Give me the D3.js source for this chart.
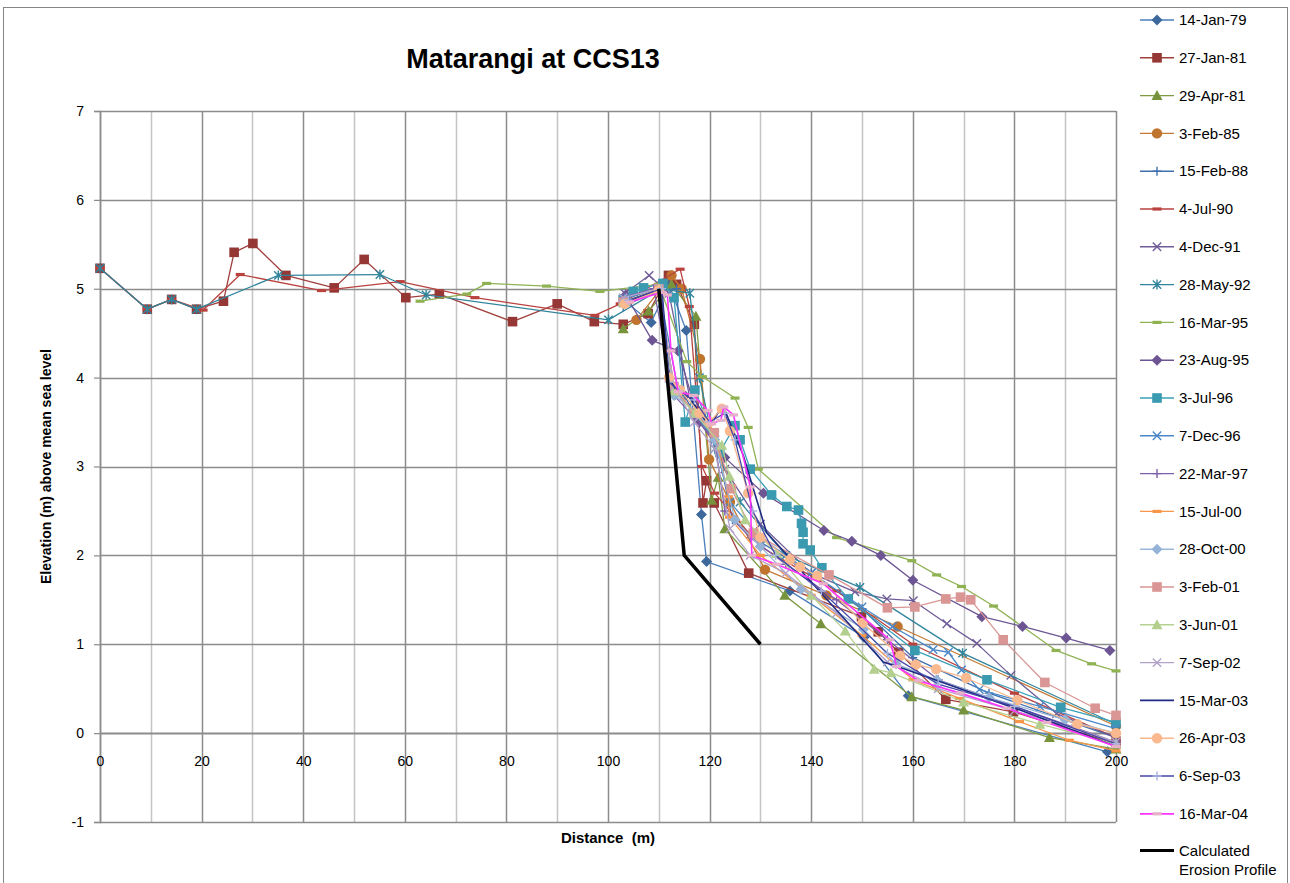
<!DOCTYPE html>
<html>
<head>
<meta charset="utf-8">
<script src="https://cdn.jsdelivr.net/npm/d3@7"></script>
<style>
  html, body { margin: 0; padding: 0; background: #ffffff; }
  svg { display: block; font-family: "Liberation Sans", Arial, sans-serif; }
</style>
</head>
<body>
<svg id="chart" width="1290" height="883"></svg>
<script>
// ---- Beach profile surveys: [distance (m), elevation (m above MSL)] ----
const p14Jan79 = [[103.5,4.85],[108.5,4.62],[112,5.05],[115.4,4.53],[118.4,2.46],[119.4,1.93],[135.8,1.6],[150.4,1.08],[159.1,0.42],[198.3,-0.21]];
const p27Jan81 = [[0,5.23],[9.3,4.77],[14.1,4.88],[19,4.77],[24.3,4.86],[26.4,5.41],[30.1,5.51],[36.6,5.15],[46.1,5.01],[52,5.33],[60.2,4.9],[66.8,4.94],[81.2,4.63],[90,4.83],[97.3,4.63],[103,4.6],[107.9,4.72],[111.9,5.15],[113.5,5.05],[117,4.6],[118.7,2.59],[119.4,2.84],[120.9,2.59],[127.7,1.8],[149.9,1.31],[153.2,1.14],[157.2,0.91],[166.5,0.38],[179.8,0.24],[200,-0.12]];
const p29Apr81 = [[103,4.55],[108,4.75],[112.5,5.05],[117.3,4.69],[120.4,2.62],[121.7,2.88],[123,2.3],[134.8,1.55],[141.9,1.23],[159.8,0.41],[170,0.26],[186.9,-0.05],[200,-0.18]];
const p3Feb85 = [[105.6,4.65],[112.5,5.15],[114.5,5.0],[118.1,4.21],[119.9,3.08],[124,2.6],[130.9,1.84],[143,1.55],[157,1.2],[200,0.08]];
const p15Feb88 = [[103,4.8],[110,4.98],[113.5,5.0],[115,3.8],[118,3.5],[121,3.35],[124.5,2.4],[130,2.15],[140,1.8],[150,1.4],[160,0.85],[175,0.45],[190,0.15],[200,-0.05]];
const p4Jul90 = [[0,5.23],[9.3,4.77],[14.1,4.88],[20.3,4.76],[27.6,5.16],[43.6,4.98],[59.1,5.08],[73.8,4.9],[97.4,4.7],[102.4,4.83],[114.2,5.22],[116,4.8],[118.5,3.0],[121,2.7],[130,2.1],[145,1.6],[160,1.0],[180,0.45],[200,-0.05]];
const p4Dec91 = [[103.3,4.95],[108.1,5.15],[112,4.95],[116,3.8],[121,3.3],[123,2.97],[130,2.35],[140,1.8],[148.6,1.59],[154.9,1.51],[160.1,1.49],[166.7,1.23],[172.6,1.01],[179.3,0.65],[188.3,0.22],[200,-0.05]];
const p28May92 = [[0,5.23],[9.3,4.77],[14.1,4.88],[19,4.77],[35.1,5.15],[55.1,5.16],[64.2,4.93],[100.1,4.65],[110.5,5.0],[116.1,4.95],[118,4.0],[121,3.2],[126,2.6],[135,2.0],[149.6,1.64],[169.8,0.9],[200,0.1]];
const p16Mar95 = [[63,4.86],[72.2,4.94],[76.1,5.06],[87.9,5.03],[98.4,4.97],[110,5.05],[115.5,4.18],[118.6,4.01],[125,3.77],[127.6,3.44],[129.6,2.97],[145,2.2],[159.8,1.94],[164.7,1.78],[169.6,1.65],[175.9,1.43],[188.2,0.93],[195.2,0.78],[200,0.7]];
const p23Aug95 = [[103.5,4.93],[108.7,4.42],[113.8,4.3],[118,3.5],[123,3.1],[130.6,2.7],[142.5,2.28],[148,2.16],[153.7,2.0],[160,1.72],[173.6,1.31],[181.6,1.2],[190.2,1.07],[198.8,0.93]];
const p3Jul96 = [[103,4.88],[105,4.97],[107,5.01],[110.8,5.06],[113,4.9],[115.2,3.5],[117.1,3.86],[122,3.16],[125,3.46],[126,3.3],[128,2.97],[132.2,2.68],[135.2,2.55],[137.5,2.51],[138.1,2.36],[138.4,2.26],[138.4,2.13],[139.8,2.06],[142.1,1.86],[147.3,1.51],[160.4,0.93],[174.6,0.6],[189.1,0.29],[200,0.12]];
const p7Dec96 = [[104,4.9],[110,5.0],[114,3.8],[117,3.6],[121,3.3],[124,2.6],[130,2.2],[140,1.8],[150,1.42],[156,1.2],[164,0.94],[167,0.91],[169.6,0.71],[173.1,0.49],[185,0.3],[200,0.05]];
const p22Mar97 = [[103,4.9],[109,5.0],[113,3.8],[117,3.55],[121,3.3],[123,2.5],[128,2.2],[135,1.9],[145,1.5],[155,1.05],[165,0.6],[180,0.3],[200,-0.1]];
const p15Jul00 = [[104,4.85],[110,4.98],[113,3.9],[117,3.6],[121,3.4],[123.7,2.66],[123.9,2.43],[130,2.0],[140,1.55],[150,1.1],[160,0.6],[169.2,0.39],[181,0.13],[190.8,-0.08],[200,-0.2]];
const p28Oct00 = [[103,4.85],[110,5.0],[113,3.8],[118,3.6],[121,3.3],[125,2.4],[130,2.1],[138,1.62],[150.3,1.17],[156.7,0.78],[164.7,0.6],[175,0.4],[190,0.15],[200,0.0]];
const p3Feb01 = [[103,4.85],[110,5.0],[113,3.9],[117,3.6],[120.9,3.38],[124.3,2.75],[128.6,2.25],[143.5,1.78],[155,1.41],[160.4,1.42],[166.5,1.51],[169.4,1.53],[171.4,1.5],[177.8,1.05],[186,0.57],[195.9,0.28],[200,0.2]];
const p3Jun01 = [[103,4.85],[110,5.0],[113,3.85],[117,3.6],[122.4,3.24],[123.9,2.89],[127,2.4],[133.2,2.02],[140,1.55],[146.7,1.15],[152.4,0.72],[155.7,0.68],[170,0.35],[185,0.1],[200,-0.12]];
const p7Sep02 = [[103,4.9],[110,5.0],[113,3.9],[117,3.5],[121,3.2],[124,2.3],[128,2.0],[135,1.8],[145,1.35],[155,0.8],[165,0.5],[180,0.25],[192,0.05],[200,-0.1]];
const p15Mar03 = [[104.3,4.87],[110.6,5.0],[112,4.0],[113.5,3.85],[116,3.78],[120,3.45],[122.6,3.69],[126.6,3.13],[131.2,2.26],[140,1.7],[154.2,0.8],[158,0.73],[181.1,0.26],[200,-0.15]];
const p26Apr03 = [[103.3,4.83],[110,4.98],[112,4.0],[114.2,3.86],[118,3.6],[120,3.5],[122.4,3.65],[124,3.4],[127.6,2.7],[130,2.2],[135.8,1.95],[137.8,1.87],[141.2,1.77],[150.1,1.24],[157.5,0.87],[160.6,0.77],[164.6,0.72],[170.5,0.62],[180.6,0.37],[192.4,0.1],[200,0.0]];
const p6Sep03 = [[104,4.87],[110.5,5.0],[112,3.95],[114,3.85],[117,3.75],[120,3.5],[123,3.6],[125,3.3],[128.5,2.5],[133,2.0],[142,1.6],[155,0.9],[165,0.55],[180,0.3],[200,-0.12]];
const p16Mar04 = [[104.3,4.85],[110.6,4.96],[111.7,4.93],[112.4,4.3],[113.8,3.84],[116.8,3.8],[119.7,3.63],[120.4,3.48],[122.2,3.52],[122.8,3.67],[124.7,3.58],[128,2.77],[128.3,2.0],[133.2,1.9],[142.4,1.68],[155.5,1.05],[156.8,0.75],[161.1,0.59],[169.3,0.45],[178.5,0.28],[186.4,0.12],[200,-0.15]];
const pErosion = [[110,5.0],[115,2.0],[130,1.0]];

const surveyDates = ["14-Jan-79","27-Jan-81","29-Apr-81","3-Feb-85","15-Feb-88","4-Jul-90","4-Dec-91","28-May-92","16-Mar-95","23-Aug-95","3-Jul-96","7-Dec-96","22-Mar-97","15-Jul-00","28-Oct-00","3-Feb-01","3-Jun-01","7-Sep-02","15-Mar-03","26-Apr-03","6-Sep-03","16-Mar-04"];
const surveyProfiles = [p14Jan79,p27Jan81,p29Apr81,p3Feb85,p15Feb88,p4Jul90,p4Dec91,p28May92,p16Mar95,p23Aug95,p3Jul96,p7Dec96,p22Mar97,p15Jul00,p28Oct00,p3Feb01,p3Jun01,p7Sep02,p15Mar03,p26Apr03,p6Sep03,p16Mar04];
const erosionLabel = ["Calculated", "Erosion Profile"];

const xTicks = [0,20,40,60,80,100,120,140,160,180,200];
const yTicks = [-1,0,1,2,3,4,5,6,7];

// ---- Appearance of each survey line: line colour, marker shape, marker colour ----
const looks = [
  {line:"#4a7ebb", mark:"diamond",  fill:"#3d689c"},
  {line:"#a0403e", mark:"square",   fill:"#953735"},
  {line:"#7f9c45", mark:"triangle", fill:"#77933c"},
  {line:"#c47a35", mark:"circle",   fill:"#c0742e"},
  {line:"#3f6fad", mark:"plus",     fill:"#3f6fad"},
  {line:"#b9423f", mark:"dash",     fill:"#b9423f"},
  {line:"#6f5c98", mark:"x",        fill:"#6f5c98"},
  {line:"#31859c", mark:"star",     fill:"#31859c"},
  {line:"#8fb253", mark:"dash",     fill:"#8fb253"},
  {line:"#6c5592", mark:"diamond",  fill:"#6c5592"},
  {line:"#3aa0b8", mark:"square",   fill:"#3a9ab0"},
  {line:"#4a88c8", mark:"x",        fill:"#4a88c8"},
  {line:"#7d5ea8", mark:"plus",     fill:"#7d5ea8"},
  {line:"#f7964a", mark:"dash",     fill:"#f7964a"},
  {line:"#9bb7da", mark:"diamond",  fill:"#95b3d7"},
  {line:"#d99694", mark:"square",   fill:"#d99694"},
  {line:"#b5d18f", mark:"triangle", fill:"#b3cf8d"},
  {line:"#b3a2c7", mark:"x",        fill:"#b3a2c7"},
  {line:"#1f2a82", mark:"none",     fill:"#1f2a82"},
  {line:"#f8b88c", mark:"circle",   fill:"#fab98e"},
  {line:"#4646a6", mark:"plus",     fill:"#a8b3dc"},
  {line:"#ff33ff", mark:"dash",     fill:"#e6b0c8"}
];

const plot = {left: 100, right: 1116, top: 111, bottom: 822};
const svg = d3.select("#chart");

// Outer chart frame
svg.append("rect")
  .attr("x", 3.5).attr("y", 7.5)
  .attr("width", 1284).attr("height", 900)
  .attr("fill", "#ffffff").attr("stroke", "#868686").attr("stroke-width", 1);

const x = d3.scaleLinear().domain([0, 200]).range([plot.left, plot.right]);
const y = d3.scaleLinear().domain([-1, 7]).range([plot.bottom, plot.top]);
const tickText = d => String(d);   // plain hyphen for negatives

// Gridlines: every 10 m across, every metre up
const grid = svg.append("g");
d3.range(0, 201, 10).forEach(v => {
  const major = v % 20 === 0;
  grid.append("line")
    .attr("x1", Math.round(x(v)) + 0.5).attr("x2", Math.round(x(v)) + 0.5)
    .attr("y1", plot.top).attr("y2", plot.bottom)
    .attr("stroke", major ? "#8c8c8c" : "#c4c4c4")
    .attr("stroke-width", 1.5);
});
d3.range(-1, 8, 1).forEach(v => {
  grid.append("line")
    .attr("x1", plot.left).attr("x2", plot.right)
    .attr("y1", Math.round(y(v)) + 0.5).attr("y2", Math.round(y(v)) + 0.5)
    .attr("stroke", "#8c8c8c")
    .attr("stroke-width", v === 0 ? 2.2 : 1.5);
});

// Axes
const yAxis = svg.append("g")
  .attr("transform", `translate(${plot.left},0)`)
  .call(d3.axisLeft(y).tickValues(yTicks).tickFormat(tickText).tickSize(6).tickPadding(10));
yAxis.select(".domain").attr("stroke", "#8c8c8c").attr("stroke-width", 1.5);
yAxis.selectAll(".tick line").attr("stroke", "#8c8c8c").attr("stroke-width", 1.2);
yAxis.selectAll(".tick text").attr("font-size", 14).attr("fill", "#000").attr("font-family", "Liberation Sans, Arial, sans-serif");

const xAxis = svg.append("g")
  .attr("transform", `translate(0,${y(0)})`)
  .call(d3.axisBottom(x).tickValues(xTicks).tickFormat(tickText).tickSize(0).tickPadding(23));
xAxis.select(".domain").remove();
xAxis.selectAll(".tick text").attr("font-size", 14).attr("fill", "#000").attr("font-family", "Liberation Sans, Arial, sans-serif");

// Titles
svg.append("text")
  .attr("x", 533).attr("y", 68)
  .attr("text-anchor", "middle")
  .attr("font-size", 27).attr("font-weight", "bold")
  .text("Matarangi at CCS13");

svg.append("text")
  .attr("transform", `translate(51,${(plot.top + plot.bottom) / 2}) rotate(-90)`)
  .attr("text-anchor", "middle")
  .attr("font-size", 14).attr("font-weight", "bold")
  .text("Elevation (m) above mean sea level");

svg.append("text")
  .attr("x", (plot.left + plot.right) / 2).attr("y", 843)
  .attr("text-anchor", "middle")
  .attr("font-size", 15).attr("font-weight", "bold")
  .style("white-space", "pre")
  .text("Distance  (m)");

// Marker drawing
function drawMarker(g, kind, fill, cx, cy) {
  const sw = 1.4;
  switch (kind) {
    case "diamond":
      g.append("path").attr("d", `M${cx},${cy-5.5}L${cx+5.5},${cy}L${cx},${cy+5.5}L${cx-5.5},${cy}Z`).attr("fill", fill);
      break;
    case "square":
      g.append("rect").attr("x", cx-4.8).attr("y", cy-4.8).attr("width", 9.6).attr("height", 9.6).attr("fill", fill);
      break;
    case "triangle":
      g.append("path").attr("d", `M${cx},${cy-5.5}L${cx+5.5},${cy+4.5}L${cx-5.5},${cy+4.5}Z`).attr("fill", fill);
      break;
    case "circle":
      g.append("circle").attr("cx", cx).attr("cy", cy).attr("r", 5.2).attr("fill", fill);
      break;
    case "plus":
      g.append("path").attr("d", `M${cx-4.5},${cy}H${cx+4.5}M${cx},${cy-4.5}V${cy+4.5}`).attr("stroke", fill).attr("stroke-width", sw).attr("fill", "none");
      break;
    case "dash":
      g.append("rect").attr("x", cx-4.5).attr("y", cy-1.6).attr("width", 9).attr("height", 3.2).attr("fill", fill);
      break;
    case "x":
      g.append("path").attr("d", `M${cx-4.2},${cy-4.2}L${cx+4.2},${cy+4.2}M${cx-4.2},${cy+4.2}L${cx+4.2},${cy-4.2}`).attr("stroke", fill).attr("stroke-width", sw).attr("fill", "none");
      break;
    case "star":
      g.append("path").attr("d", `M${cx-4.2},${cy-4.2}L${cx+4.2},${cy+4.2}M${cx-4.2},${cy+4.2}L${cx+4.2},${cy-4.2}M${cx},${cy-5}V${cy+5}`).attr("stroke", fill).attr("stroke-width", sw).attr("fill", "none");
      break;
    default:
      break;
  }
}

const line = d3.line().x(d => x(d[0])).y(d => y(d[1]));
const series = surveyDates.map((name, i) => ({name, values: surveyProfiles[i], look: looks[i]}));
const heavy = s => s.look.mark === "none" || s.name === "16-Mar-04";

const plotG = svg.append("g");
series.forEach(s => {
  const g = plotG.append("g").attr("class", "survey");
  g.append("path")
    .attr("d", line(s.values))
    .attr("fill", "none")
    .attr("stroke", s.look.line)
    .attr("stroke-width", heavy(s) ? 1.6 : 1.3)
    .attr("stroke-linejoin", "round");
  s.values.forEach(d => drawMarker(g, s.look.mark, s.look.fill, x(d[0]), y(d[1])));
});

// Calculated erosion profile
plotG.append("path")
  .attr("d", line(pErosion))
  .attr("fill", "none")
  .attr("stroke", "#000000")
  .attr("stroke-width", 3.5)
  .attr("stroke-linejoin", "miter");

// Legend
const legend = svg.append("g");
const legendTop = 20, legendStep = 37.8;
series.forEach((s, i) => {
  const cy = legendTop + i * legendStep;
  const g = legend.append("g");
  g.append("line").attr("x1", 1140).attr("x2", 1174).attr("y1", cy).attr("y2", cy)
    .attr("stroke", s.look.line).attr("stroke-width", heavy(s) ? 1.8 : 1.4);
  drawMarker(g, s.look.mark, s.look.fill, 1157, cy);
  g.append("text").attr("x", 1179).attr("y", cy + 5.2)
    .attr("font-size", 15).attr("fill", "#000").text(s.name);
});
{
  const cy = legendTop + series.length * legendStep - 1;
  legend.append("line").attr("x1", 1140).attr("x2", 1174).attr("y1", cy).attr("y2", cy)
    .attr("stroke", "#000").attr("stroke-width", 3);
  legend.append("text").attr("x", 1179).attr("y", cy + 5.2).attr("font-size", 15).text(erosionLabel[0]);
  legend.append("text").attr("x", 1179).attr("y", cy + 24).attr("font-size", 15).text(erosionLabel[1]);
}
</script>
</body>
</html>
